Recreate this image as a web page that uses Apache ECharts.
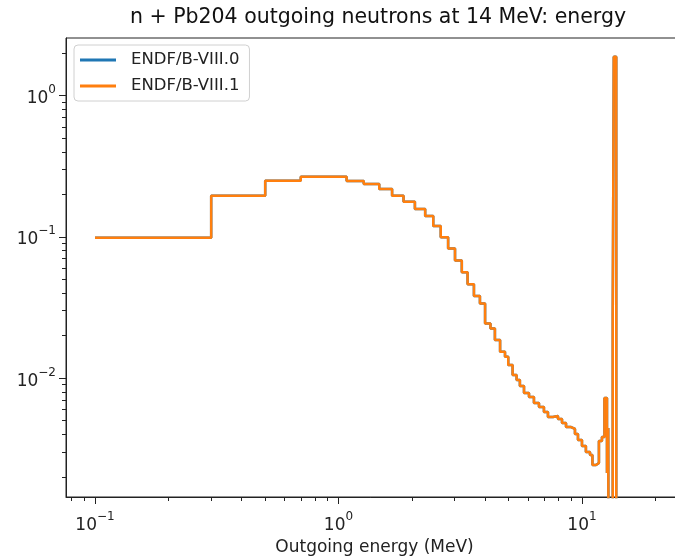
<!DOCTYPE html>
<html><head><meta charset="utf-8">
<script src="https://cdn.jsdelivr.net/npm/echarts@6/dist/echarts.min.js"></script>
<style>html,body{margin:0;padding:0;background:#fff}#c{width:675px;height:556px}</style>
</head><body><div id="c"></div>
<script>
// Bin left edges (MeV) and values (step function, last bin ends at final edge)
const energyEdges = [0.1, 0.3, 0.5, 0.7, 1.08, 1.27, 1.47, 1.66, 1.85, 2.06,
  2.27, 2.45, 2.63, 2.82, 3.01, 3.21, 3.39, 3.60, 3.81, 4.00,
  4.21, 4.39, 4.61, 4.83, 4.98, 5.19, 5.39, 5.56, 5.78, 6.06,
  6.35, 6.66, 6.98, 7.25, 7.60, 7.97, 8.28, 8.60, 9.02, 9.36,
  9.63, 10.0, 10.38, 10.79, 11.04, 11.42, 11.74, 12.08, 12.37, 12.67,
  12.82, 13.03, 13.38, 13.51, 13.83];
const valuesB81 = [0.0986, 0.1954, 0.2494, 0.2663, 0.2482, 0.2364, 0.2180, 0.1954, 0.1772, 0.1573,
  0.1404, 0.1192, 0.0992, 0.0826, 0.0679, 0.0561, 0.0461, 0.0381, 0.0338, 0.0244,
  0.0225, 0.01861, 0.01537, 0.01417, 0.01238, 0.01051, 0.00969, 0.00879, 0.00785, 0.00735,
  0.00666, 0.00624, 0.00576, 0.00531, 0.00539, 0.00513, 0.00481, 0.00451, 0.00437, 0.00403,
  0.00365, 0.00331, 0.00300, 0.00286, 0.00243, 0.00251, 0.00359, 0.00383, 0.00724, 0.00213,
  0.00444, 0, 0.0280, 1.88, 0];
const valuesB80 = valuesB81; // curves coincide in the reference
const seriesNames = ['ENDF/B-VIII.0', 'ENDF/B-VIII.1'];
const xMajorTicks = [0.1, 1, 10];
const xMinorTicks = [0.08, 0.09, 0.2, 0.3, 0.4, 0.5, 0.6, 0.7, 0.8, 0.9, 2, 3, 4, 5, 6, 7, 8, 9, 20];
const yMajorTicks = [0.01, 0.1, 1];
const yMinorTicks = [0.002, 0.003, 0.004, 0.005, 0.006, 0.007, 0.008, 0.009,
  0.02, 0.03, 0.04, 0.05, 0.06, 0.07, 0.08, 0.09, 0.2, 0.3, 0.4, 0.5, 0.6, 0.7, 0.8, 0.9, 2];
const xRange = [0.0760, 26.0];
const yRange = [0.001442, 2.553];
const titleText = 'n + Pb204 outgoing neutrons at 14 MeV: energy';
const xName = 'Outgoing energy (MeV)';

const ZERO_FLOOR = 1e-8; // zeros cannot be shown on a log axis; they fall below the frame
function toPairs(vals) { return energyEdges.map((e, i) => [e, vals[i] > 0 ? vals[i] : ZERO_FLOOR]); }
const FONT = 'DejaVu Sans';
const sup = v => {
  const e = Math.round(Math.log10(v));
  return '{b|10}{s|' + (e < 0 ? '\u2212' + (-e) : e) + '}';
};
const rich = {
  b: { fontSize: 17, fontFamily: FONT, color: '#222', padding: [6, 0, 0, 0] },
  s: { fontSize: 12, fontFamily: FONT, color: '#222', verticalAlign: 'top' }
};
const chart = echarts.init(document.getElementById('c'), null, { renderer: 'canvas' });
const grid = { left: 66, right: -8, top: 38, bottom: 59, show: true, borderColor: '#222', borderWidth: 1,
  backgroundColor: 'transparent', containLabel: false, outerBoundsMode: 'none' };
chart.setOption({
  animation: false,
  backgroundColor: '#fff',
  graphic: [{ type: 'text', x: 378, y: 7,
    style: { text: titleText, font: '20.5px "DejaVu Sans"', fill: '#111', textAlign: 'center' } }],
  legend: {
    orient: 'vertical', left: 74, top: 45, data: seriesNames,
    icon: 'rect', itemWidth: 36, itemHeight: 3, itemGap: 8,
    padding: [6, 10, 6, 6],
    backgroundColor: '#fff', borderColor: '#d0d0d0', borderWidth: 1, borderRadius: 4,
    textStyle: { fontFamily: FONT, fontSize: 16.5, color: '#222', padding: [0, 0, 0, 10], lineHeight: 18 }
  },
  grid: grid,
  xAxis: [
    { type: 'log', logBase: 10, min: xRange[0], max: xRange[1], position: 'bottom',
      name: xName, nameLocation: 'middle', nameGap: 37,
      nameTextStyle: { fontFamily: FONT, fontSize: 17, color: '#222' },
      axisLine: { show: true, lineStyle: { color: '#222', width: 1 } },
      axisTick: { show: true, inside: false, length: 7, lineStyle: { color: '#222' }, customValues: xMajorTicks },
      axisLabel: { show: true, margin: 14, customValues: xMajorTicks, formatter: sup, rich: rich },
      splitLine: { show: false }, minorTick: { show: false } },
    { type: 'log', logBase: 10, min: xRange[0], max: xRange[1], position: 'bottom',
      axisLine: { show: false },
      axisTick: { show: true, inside: false, length: 4, lineStyle: { color: '#222' }, customValues: xMinorTicks },
      axisLabel: { show: false }, splitLine: { show: false } }
  ],
  yAxis: [
    { type: 'log', logBase: 10, min: yRange[0], max: yRange[1], position: 'left',
      axisLine: { show: true, lineStyle: { color: '#222', width: 1 } },
      axisTick: { show: true, inside: false, length: 7, lineStyle: { color: '#222' }, customValues: yMajorTicks },
      axisLabel: { show: true, margin: 10, customValues: yMajorTicks, formatter: sup, rich: rich },
      splitLine: { show: false } },
    { type: 'log', logBase: 10, min: yRange[0], max: yRange[1], position: 'left',
      axisLine: { show: false },
      axisTick: { show: true, inside: false, length: 4, lineStyle: { color: '#222' }, customValues: yMinorTicks },
      axisLabel: { show: false }, splitLine: { show: false } }
  ],
  series: [
    { name: seriesNames[0], type: 'line', step: 'end', data: toPairs(valuesB80), showSymbol: false, symbol: 'none',
      clip: true, lineStyle: { color: '#1f77b4', width: 2.5 }, itemStyle: { color: '#1f77b4' } },
    { name: seriesNames[1], type: 'line', step: 'end', data: toPairs(valuesB81), showSymbol: false, symbol: 'none',
      clip: true, lineStyle: { color: '#ff7f0e', width: 2.5 }, itemStyle: { color: '#ff7f0e' } }
  ]
});
</script></body></html>
